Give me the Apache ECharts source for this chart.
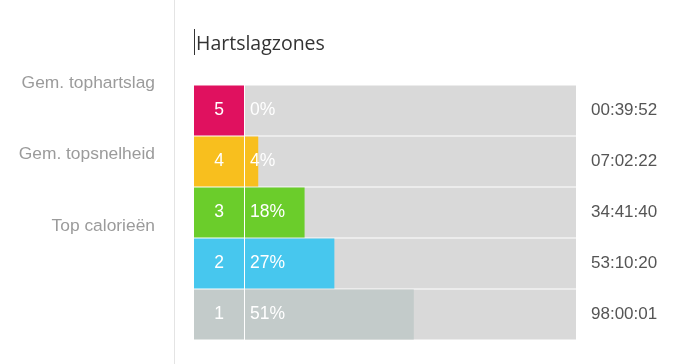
<!DOCTYPE html>
<html>
<head>
<meta charset="utf-8">
<script src="https://cdn.jsdelivr.net/npm/echarts@6/dist/echarts.min.js"></script>
<style>
html,body{margin:0;padding:0;background:#fff;}
#chart{width:690px;height:364px;}
</style>
</head>
<body>
<div id="chart"></div>
<script>
var zones = ['5', '4', '3', '2', '1'];
var percents = [0, 4, 18, 27, 51];
var times = ['00:39:52', '07:02:22', '34:41:40', '53:10:20', '98:00:01'];
var zoneColors = ['#e0115f', '#f8bf1e', '#6bcd2b', '#47c7ee', '#c3cbca'];
var sideLabels = ['Gem. tophartslag', 'Gem. topsnelheid', 'Top calorieën'];
var titleText = 'Hartslagzones';

var chart = echarts.init(document.getElementById('chart'), null, {renderer: 'canvas'});
var font = '"Liberation Sans", Arial, sans-serif';

var sideGraphics = sideLabels.map(function (t, i) {
  return {
    type: 'text', x: 155, y: 83 + i * 71.5,
    style: {text: t, textAlign: 'right', textVerticalAlign: 'middle', fill: '#9b9b9b', font: '17.4px ' + font}
  };
});

var option = {
  animation: false,
  title: {
    text: titleText, left: 196, top: 34, padding: 0,
    textStyle: {fontFamily: '"Open Sans", sans-serif', fontSize: 19.5, fontWeight: 'normal', color: '#333'}
  },
  graphic: [
    {type: 'line', shape: {x1: 174.5, y1: 0, x2: 174.5, y2: 364}, style: {stroke: '#e4e4e4', lineWidth: 1}},
    {type: 'line', shape: {x1: 194.5, y1: 29, x2: 194.5, y2: 55}, style: {stroke: '#333', lineWidth: 1}}
  ].concat(sideGraphics),
  grid: [
    {left: 245, top: 85, width: 331, height: 255, containLabel: false},
    {left: 194, top: 85, width: 50, height: 255, containLabel: false}
  ],
  xAxis: [
    {gridIndex: 0, type: 'value', min: 0, max: 100, show: false},
    {gridIndex: 1, type: 'value', min: 0, max: 1, show: false}
  ],
  yAxis: [
    {gridIndex: 0, type: 'category', data: zones, inverse: true, show: false},
    {gridIndex: 0, type: 'category', data: times, inverse: true, position: 'right',
      axisLine: {show: false}, axisTick: {show: false}, splitLine: {show: false},
      axisLabel: {color: '#555', fontSize: 17, fontFamily: font, margin: 15, align: 'left'}},
    {gridIndex: 1, type: 'category', data: zones, inverse: true, show: false}
  ],
  series: [
    {
      type: 'bar', xAxisIndex: 0, yAxisIndex: 0, barWidth: 50, silent: true,
      data: zones.map(function () { return 100; }),
      itemStyle: {color: '#d9d9d9'}
    },
    {
      type: 'bar', xAxisIndex: 0, yAxisIndex: 0, barWidth: 50, barGap: '-100%', silent: true,
      data: percents.map(function (v, i) { return {value: v, itemStyle: {color: zoneColors[i]}}; })
    },
    {
      type: 'bar', xAxisIndex: 0, yAxisIndex: 0, barWidth: 50, barGap: '-100%', silent: true,
      data: zones.map(function () { return 100; }),
      itemStyle: {color: 'rgba(0,0,0,0)'},
      label: {
        show: true, position: 'insideLeft', distance: 5,
        formatter: function (p) { return percents[p.dataIndex] + '%'; },
        color: '#fff', fontSize: 17.5, fontFamily: font
      }
    },
    {
      type: 'bar', xAxisIndex: 1, yAxisIndex: 2, barWidth: 50, silent: true,
      data: zones.map(function (z, i) { return {value: 1, itemStyle: {color: zoneColors[i]}}; }),
      label: {
        show: true, position: 'inside',
        formatter: function (p) { return zones[p.dataIndex]; },
        color: '#fff', fontSize: 17.5, fontFamily: font
      }
    }
  ]
};
chart.setOption(option);
</script>
</body>
</html>
